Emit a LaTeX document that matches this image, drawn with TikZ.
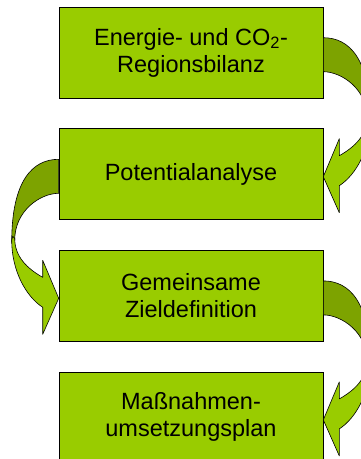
\documentclass[tikz,border=0pt]{standalone}
\usepackage{fontspec}
\setmainfont{Liberation Sans}
\usetikzlibrary{positioning}
\definecolor{stagegreen}{HTML}{99CC00}
\definecolor{backgreen}{HTML}{7DA300}
% curved block arrow hanging off a box corner, #2 = 1 (right) or -1 (left)
\newcommand{\bendarrow}[2]{%
\begin{scope}[shift={#1}, xscale=#2, line width=0.6pt, line join=round]
\filldraw[fill=backgreen] (0,31) .. controls (26,31) and (47,52) .. (47,114) -- (44,112) .. controls (44,82) and (18,65) .. (0,65) -- cycle;
\filldraw[fill=stagegreen] (46,108) -- (47,112) .. controls (47,142) and (33,168) .. (16,179) -- (16,206) -- (0,170) -- (16,132) -- (16,149) .. controls (32,140) and (44,128) .. (44,110) -- cycle;
\end{scope}}

\begin{document}
\begin{tikzpicture}[x=1pt, y=-1pt, node distance=30pt,
  stage/.style={draw, line width=0.6pt, fill=stagegreen, minimum width=264pt, minimum height=91pt,
    inner sep=0pt, align=center, font=\fontsize{23.5}{27}\selectfont}]
\useasboundingbox (0,0) rectangle (361,459);
\clip (0,0) rectangle (361,459);
\node[stage] (bilanz) at (191,52.5) {Energie- und CO\textsubscript{2}-\\Regionsbilanz};
\node[stage, below=of bilanz] (potential) {Potentialanalyse};
\node[stage, below=of potential] (ziel) {Gemeinsame\\Zieldefinition};
\node[stage, below=of ziel] (massnahmen) {Maßnahmen-\\umsetzungsplan};
\bendarrow{(bilanz.north east)}{1}
\bendarrow{(potential.north west)}{-1}
\bendarrow{(ziel.north east)}{1}
\end{tikzpicture}
\end{document}
